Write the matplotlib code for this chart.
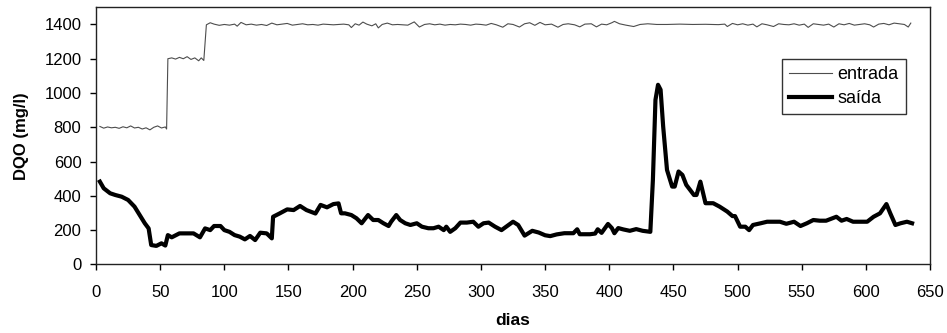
import matplotlib
matplotlib.use('Agg')
import matplotlib.pyplot as plt

plt.rcParams['font.family'] = ['Liberation Sans', 'DejaVu Sans']

#%% Data
# entrada (influent COD)
entrada_dias = [3, 6, 9, 12, 15, 18, 21, 24, 27, 30,
                33, 36, 39, 42, 45, 48, 51, 54, 55, 56,
                59, 62, 65, 68, 71, 74, 77, 80, 82, 84,
                86, 89, 92, 96, 100, 104, 108, 110, 113, 117,
                121, 125, 129, 133, 137, 141, 145, 149, 153, 157,
                161, 165, 169, 173, 177, 181, 185, 189, 193, 197,
                199, 202, 205, 208, 211, 215, 218, 220, 223, 227,
                231, 235, 239, 243, 248, 252, 256, 260, 264, 268,
                272, 276, 280, 284, 288, 292, 296, 300, 304, 308,
                312, 317, 321, 325, 330, 334, 338, 342, 346, 350,
                355, 360, 364, 368, 373, 377, 381, 386, 390, 394,
                398, 402, 404, 408, 413, 419, 424, 430, 437, 445,
                455, 465, 475, 485, 490, 492, 496, 500, 504, 508,
                512, 515, 519, 523, 528, 532, 536, 540, 544, 548,
                552, 555, 559, 563, 567, 571, 575, 579, 583, 587,
                591, 595, 599, 603, 606, 610, 614, 618, 622, 626,
                630, 633, 635]
entrada_dqo = [805, 795, 802, 797, 800, 794, 803, 797, 808, 796,
               800, 790, 797, 785, 800, 808, 796, 802, 790, 1200,
               1205, 1198, 1208, 1200, 1212, 1196, 1205, 1188, 1205, 1190,
               1398, 1410, 1402, 1395, 1400, 1396, 1402, 1390, 1412, 1398,
               1402, 1396, 1400, 1394, 1408, 1398, 1402, 1406, 1396, 1400,
               1404, 1398, 1400, 1396, 1402, 1400, 1398, 1400, 1402, 1398,
               1382, 1404, 1396, 1414, 1402, 1392, 1404, 1380, 1400, 1408,
               1398, 1400, 1398, 1396, 1415, 1385, 1400, 1404, 1398, 1402,
               1396, 1400, 1398, 1402, 1400, 1396, 1402, 1400, 1396, 1406,
               1398, 1384, 1404, 1400, 1385, 1404, 1410, 1395, 1412, 1398,
               1402, 1384, 1400, 1404, 1398, 1386, 1402, 1404, 1386, 1402,
               1398, 1410, 1418, 1404, 1396, 1388, 1400, 1404, 1400, 1400,
               1402, 1400, 1401, 1399, 1402, 1388, 1406, 1398, 1404, 1396,
               1402, 1386, 1404, 1398, 1388, 1404, 1400, 1398, 1404, 1396,
               1402, 1383, 1404, 1400, 1396, 1402, 1385, 1404, 1398, 1406,
               1396, 1400, 1404, 1398, 1385, 1402, 1406, 1398, 1408, 1404,
               1400, 1385, 1408]

# saida (effluent COD)
saida_dias = [3, 6, 11, 15, 20, 25, 30, 34, 38, 41,
              43, 47, 51, 54, 56, 59, 65, 71, 76, 81,
              85, 89, 92, 97, 100, 104, 108, 112, 116, 120,
              124, 128, 133, 137, 138, 143, 149, 154, 159, 164,
              171, 175, 180, 185, 189, 191, 194, 199, 203, 207,
              212, 216, 220, 224, 228, 230, 234, 237, 241, 245,
              250, 254, 259, 263, 267, 271, 273, 276, 280, 284,
              289, 294, 298, 302, 306, 311, 316, 325, 329, 334,
              340, 345, 350, 354, 359, 365, 372, 375, 377, 385,
              389, 391, 394, 399, 402, 404, 407, 411, 416, 421,
              426, 432, 434, 436, 438, 440, 442, 445, 449, 451,
              454, 457, 460, 466, 468, 471, 475, 481, 486, 492,
              496, 498, 502, 506, 509, 512, 518, 523, 528, 533,
              538, 544, 549, 554, 559, 564, 569, 577, 581, 585,
              590, 595, 601, 606, 611, 616, 619, 623, 627, 632,
              636]
saida_dqo = [483, 444, 415, 405, 395, 376, 337, 288, 240, 210,
             113, 108, 123, 110, 171, 158, 181, 181, 181, 158,
             210, 200, 224, 224, 200, 190, 171, 162, 146, 166,
             142, 185, 181, 152, 278, 297, 321, 317, 341, 317,
             297, 347, 333, 352, 356, 298, 298, 288, 269, 240,
             288, 259, 259, 240, 224, 249, 288, 259, 240, 230,
             240, 220, 211, 211, 220, 200, 220, 190, 211, 244,
             244, 249, 220, 240, 244, 220, 200, 249, 230, 168,
             196, 186, 170, 165, 175, 182, 182, 205, 176, 176,
             180, 205, 184, 236, 212, 182, 212, 204, 196, 206,
             196, 190, 493, 960, 1048, 1019, 805, 551, 454, 454,
             542, 522, 464, 405, 405, 483, 357, 357, 337, 308,
             282, 282, 220, 220, 200, 230, 240, 249, 249, 249,
             237, 249, 224, 240, 259, 255, 255, 278, 255, 265,
             249, 249, 249, 278, 298, 352, 298, 230, 240, 249,
             240]

#%% Plot
fig = plt.figure(figsize=(9.47, 3.33), dpi=100)
ax = fig.add_axes([0.1014, 0.206, 0.8807, 0.772])

ax.plot(entrada_dias, entrada_dqo, color='#4d4d4d', lw=0.8, label='entrada')
ax.plot(saida_dias, saida_dqo, color='black', lw=3.0, solid_joinstyle='round', label='saída')

ax.set_xlim(0, 650)
ax.set_ylim(0, 1500)
ax.set_xticks(range(0, 651, 50))
ax.set_yticks(range(0, 1401, 200))
ax.tick_params(direction='out', length=4.5, width=1, labelsize=12, colors='black')
ax.tick_params(axis='x', pad=10)
ax.tick_params(axis='y', pad=6)
for s in ax.spines.values():
    s.set_linewidth(1.0)
    s.set_color('#222222')

ax.set_xlabel('dias', fontsize=12.5, fontweight='bold', labelpad=10)
ax.set_ylabel('DQO (mg/l)', fontsize=12, fontweight='bold', labelpad=11)

leg = ax.legend(loc='upper left', bbox_to_anchor=(0.822, 0.80), fontsize=13,
                frameon=True, fancybox=False, edgecolor='black', handlelength=2.4,
                handletextpad=0.3, borderpad=0.4, labelspacing=0.4,
                borderaxespad=0)
leg.get_frame().set_linewidth(1.0)

fig.savefig('out.png', dpi=100)
